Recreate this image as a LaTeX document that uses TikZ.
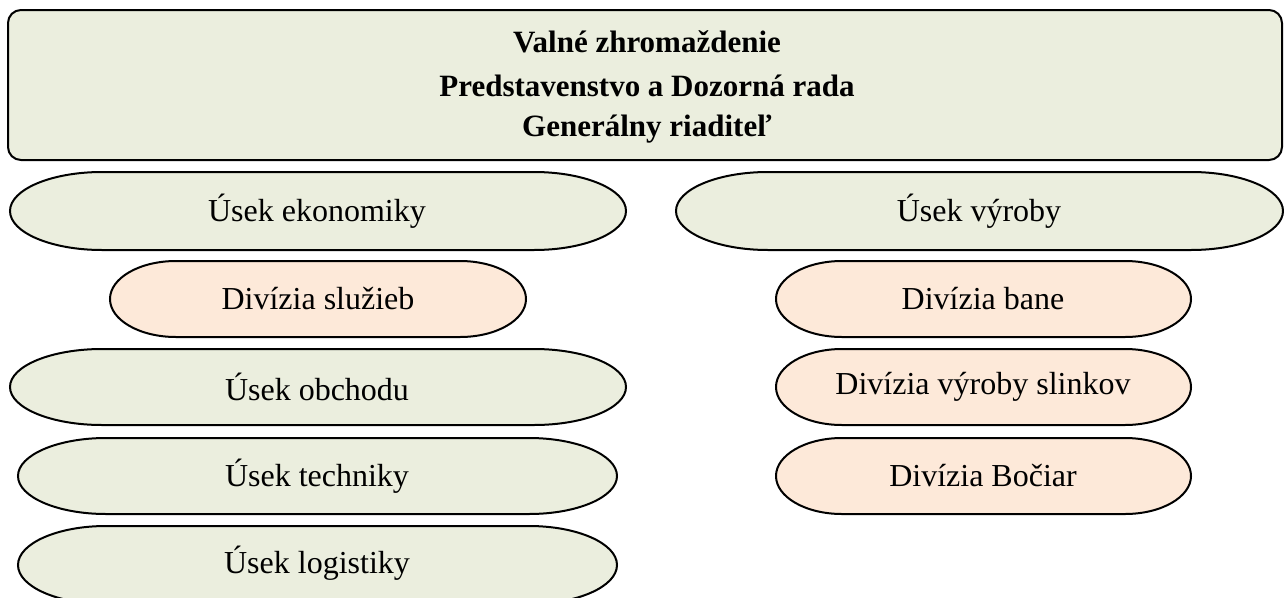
\documentclass[tikz,border=0pt]{standalone}
\usepackage{fontspec}
\setmainfont{Liberation Serif}
\definecolor{ovgreen}{HTML}{EBEEDE}
\definecolor{ovpeach}{HTML}{FDE9D9}
\tikzset{
  shapeline/.style={draw=black, line width=2pt},
  lbl/.style={font=\fontsize{32}{38}\selectfont, inner sep=0pt},
  toplbl/.style={font=\fontsize{31}{37}\selectfont\bfseries, inner sep=0pt}
}
% x1 y1 x2 y2 rx colour  (y measured downwards)
\newcommand\termshape[6]{%
  \pgfmathsetmacro\termry{(#4-#2)/2}%
  \draw[shapeline, fill=#6] (#1+#5,-#2) -- (#3-#5,-#2)
    arc[start angle=90, end angle=-90, x radius=#5, y radius=\termry]
    -- (#1+#5,-#4)
    arc[start angle=270, end angle=90, x radius=#5, y radius=\termry] -- cycle;}
\begin{document}
\begin{tikzpicture}[x=1pt,y=1pt]
\clip (0,0) rectangle (1284,-597);
\fill[white] (0,0) rectangle (1284,-597);
% top box
\draw[shapeline, fill=ovgreen, rounded corners=13pt] (8,-10) rectangle (1282,-160);
\node[toplbl] (t1) at (647,-42) {Valné zhromaždenie};
\node[toplbl] (t2) at (647,-86) {Predstavenstvo a Dozorná rada};
\node[toplbl] (t3) at (647,-129) {Generálny riaditeľ};
% left column
\termshape{10}{172}{626}{250}{92}{ovgreen}
\node[lbl] (ekon) at (317,-211) {Úsek ekonomiky};
\termshape{110}{261}{526}{337}{66}{ovpeach}
\node[lbl] (sluz) at (318,-299) {Divízia služieb};
\termshape{10}{349}{626}{425}{92}{ovgreen}
\node[lbl] (obch) at (317,-387) {Úsek obchodu};
\termshape{18}{438}{617}{514}{88}{ovgreen}
\node[lbl] (tech) at (317,-476) {Úsek techniky};
\termshape{18}{526}{617}{604}{88}{ovgreen}
\node[lbl] (logi) at (317,-563) {Úsek logistiky};
% right column
\termshape{676}{172}{1283}{250}{92}{ovgreen}
\node[lbl] (vyr) at (979,-211) {Úsek výroby};
\termshape{776}{261}{1191}{337}{66}{ovpeach}
\node[lbl] (bane) at (983,-299) {Divízia bane};
\termshape{776}{349}{1191}{425}{66}{ovpeach}
\node[lbl] (slink) at (983,-387) {Divízia výroby slinkov};
\termshape{776}{438}{1191}{514}{66}{ovpeach}
\node[lbl] (boc) at (983,-476) {Divízia Bočiar};
\end{tikzpicture}
\end{document}
